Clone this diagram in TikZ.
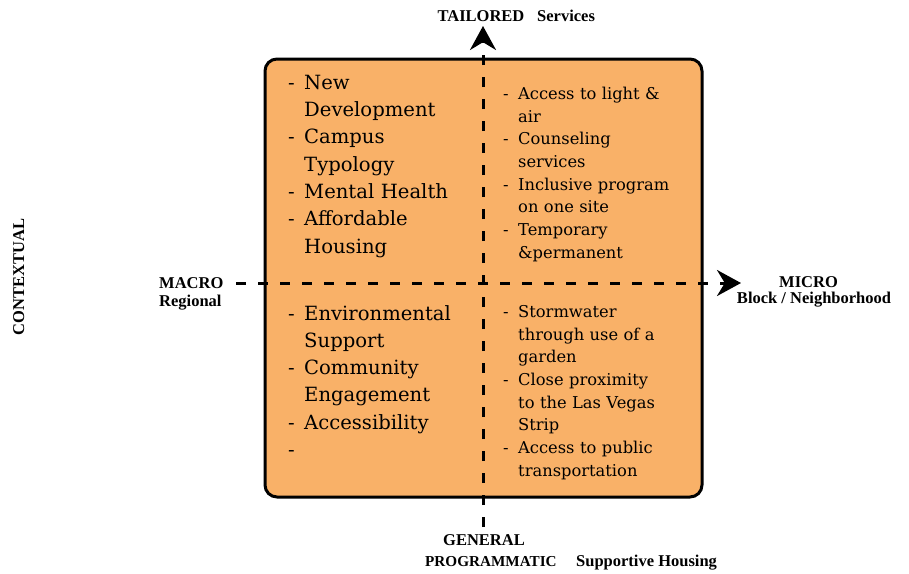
\documentclass[tikz,border=0pt]{standalone}
\usepackage{fontspec}
\setmainfont{DejaVu Serif}
\newfontfamily\axisfont{Liberation Serif}
\usetikzlibrary{arrows.meta,positioning}
\definecolor{boxorange}{RGB}{249,177,104}
\newcommand{\bigdash}{\makebox[16pt][l]{-}}
\newcommand{\biggap}{\hspace*{16pt}}
\newcommand{\smalldash}{\makebox[15pt][l]{-}}
\newcommand{\smallgap}{\hspace*{15pt}}

\begin{document}
\begin{tikzpicture}[x=1pt,y=-1pt]
\tikzset{axis-label/.style={inner sep=0pt, font=\axisfont\bfseries\fontsize{16.5}{16}\selectfont},
big-list/.style={inner sep=0pt, anchor=base west, text width=190pt, align=left,
font=\fontsize{19.6}{27.3}\selectfont},
small-list/.style={inner sep=0pt, anchor=base west, text width=190pt, align=left,
font=\fontsize{16.3}{22.7}\selectfont},
axis-line/.style={line width=3pt, dash pattern=on 10pt off 12pt,
-{Stealth[length=24pt,width=26pt]}}}
\useasboundingbox (0,0) rectangle (909,573);

\node[draw, line width=3pt, fill=boxorange, rounded corners=12pt,
minimum width=437pt, minimum height=438pt] (quadrant-box) at (483.5,278) {};

\coordinate (tailored-tip) at (483,26);
\coordinate (general-end) at (483,527);
\coordinate (macro-end) at (236,283);
\coordinate (micro-tip) at (741,283);
\draw[axis-line] (general-end) -- (tailored-tip);
\draw[axis-line] (macro-end) -- (micro-tip);

\node[axis-label, anchor=base] (tailored-label) at (481,21.5) {TAILORED};
\node[axis-label, anchor=base west] (services-label) at (537,21.5) {Services};
\node[axis-label, anchor=base west] (macro-label) at (159,288.3) {MACRO};
\node[axis-label, anchor=base west] (regional-label) at (159,306.7) {Regional};
\node[axis-label, anchor=base] (micro-label) at (808.5,287.5) {MICRO};
\node[axis-label, anchor=base] (block-label) at (814,303) {Block / Neighborhood};
\node[axis-label, anchor=base] (general-label) at (484,545) {GENERAL};
\node[axis-label, anchor=base west, font=\axisfont\bfseries\fontsize{15.2}{16}\selectfont]
(programmatic-label) at (425,566.7) {PROGRAMMATIC};
\node[axis-label, anchor=base west] (supportive-label) at (576,566.7) {Supportive Housing};
\node[axis-label, anchor=base, rotate=90] (contextual-label) at (24,277) {CONTEXTUAL};

\node[big-list] (macro-tailored) at (288,89.3) {\bigdash New\\ \biggap Development\\
\bigdash Campus\\ \biggap Typology\\ \bigdash Mental Health\\ \bigdash Affordable\\
\biggap Housing};
\node[small-list] (micro-tailored) at (503,99.3) {\smalldash Access to light \&\\
\smallgap air\\ \smalldash Counseling\\ \smallgap services\\ \smalldash Inclusive program\\
\smallgap on one site\\ \smalldash Temporary\\ \smallgap \&permanent};
\node[big-list] (macro-general) at (288,320) {\bigdash Environmental\\ \biggap Support\\
\bigdash Community\\ \biggap Engagement\\ \bigdash Accessibility\\ \bigdash};
\node[small-list] (micro-general) at (503,317.3) {\smalldash Stormwater\\
\smallgap through use of a\\ \smallgap garden\\ \smalldash Close proximity\\
\smallgap to the Las Vegas\\ \smallgap Strip\\ \smalldash Access to public\\
\smallgap transportation};
\end{tikzpicture}
\end{document}
